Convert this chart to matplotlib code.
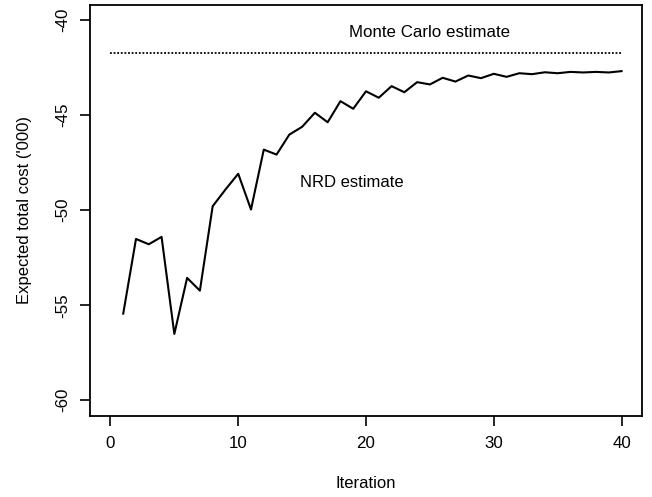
import matplotlib
matplotlib.use("Agg")
import matplotlib.pyplot as plt

plt.rcParams['font.family'] = ['Liberation Sans', 'DejaVu Sans']

iterations = list(range(1, 41))
nrd_estimate = [-55.44, -51.51, -51.79, -51.40, -56.51, -53.56, -54.23, -49.79, -48.91, -48.08,
                -49.96, -46.81, -47.07, -46.02, -45.61, -44.87, -45.37, -44.26, -44.66, -43.74,
                -44.08, -43.47, -43.79, -43.26, -43.38, -43.03, -43.23, -42.91, -43.05, -42.82,
                -42.98, -42.79, -42.84, -42.74, -42.79, -42.72, -42.75, -42.72, -42.75, -42.68]
mc_x = [0, 40]
mc_estimate = -41.75
x_ticks = [0, 10, 20, 30, 40]
y_ticks = [-60, -55, -50, -45, -40]

fig = plt.figure(figsize=(6.52, 4.97), dpi=100)
ax = fig.add_axes([90/652, 1-415.5/497, (642-90)/652, (415.5-5)/497])

ax.plot(iterations, nrd_estimate, color='black', lw=1.5)
ax.plot(mc_x, [mc_estimate]*2, color='black', lw=1.3, linestyle=(0, (1, 1)))

ax.set_xlim(-1.6, 41.6)
ax.set_ylim(-60.8, -39.2)
ax.set_xticks(x_ticks)
ax.set_yticks(y_ticks)
ax.set_yticklabels([str(v) for v in y_ticks], rotation=90, va='center')
ax.tick_params(direction='out', length=7, width=1.2, labelsize=12.2)
ax.tick_params(axis='x', pad=8)
ax.tick_params(axis='y', pad=7)
for s in ax.spines.values():
    s.set_linewidth(1.3)

ax.text(25.0, -40.65, 'Monte Carlo estimate', ha='center', va='center', fontsize=12.2)
ax.text(18.92, -48.54, 'NRD estimate', ha='center', va='center', fontsize=12)
ax.set_xlabel('Iteration', fontsize=12, labelpad=18)
ax.set_ylabel("Expected total cost ('000)", fontsize=12, labelpad=17)

fig.savefig('out.png', dpi=100)
